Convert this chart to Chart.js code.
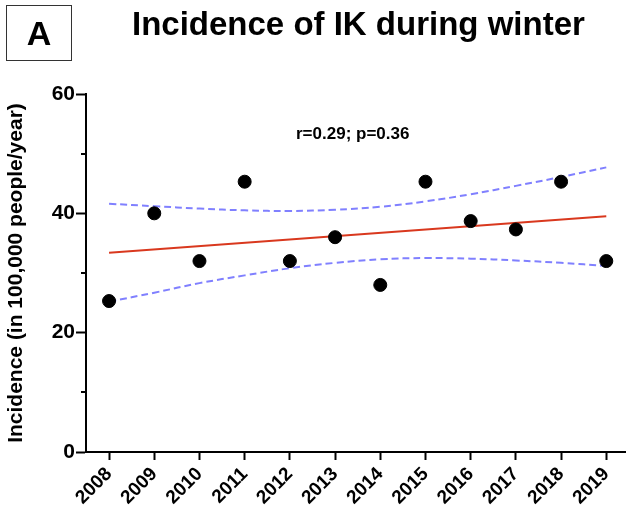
<!DOCTYPE html>
<html>
<head>
<meta charset="utf-8">
<script src="https://cdn.jsdelivr.net/npm/chart.js@4"></script>
<style>
  body { margin: 0; background: #fff; }
  #wrap { position: relative; width: 626px; height: 514px; font-family: "Liberation Sans", Arial, Helvetica, sans-serif; }
  #panel { position: absolute; left: 6px; top: 5px; width: 64px; height: 54px; border: 1.5px solid #333;
           font-weight: bold; font-size: 34px; line-height: 54px; text-align: center; }
  #title { position: absolute; left: 132px; top: 7px; font-weight: bold; font-size: 33px; line-height: 33px; white-space: nowrap; }
  #stats { position: absolute; left: 296px; top: 124px; font-weight: bold; font-size: 17px; line-height: 19px; white-space: nowrap; }
  canvas { position: absolute; left: 0; top: 0; }
</style>
</head>
<body>
<div id="wrap">
  <canvas id="myChart" width="626" height="514"></canvas>
  <div id="panel">A</div>
  <div id="title">Incidence of IK during winter</div>
  <div id="stats">r=0.29; p=0.36</div>
</div>
<script>
// Data
const years = [2008, 2009, 2010, 2011, 2012, 2013, 2014, 2015, 2016, 2017, 2018, 2019];
const incidence = [25.3, 40.0, 32.0, 45.3, 32.0, 36.0, 28.0, 45.3, 38.7, 37.3, 45.3, 32.0];
const fitEnds = [33.4, 39.5]; // regression line at 2008 and 2019
const upperBand = [41.6, 41.2, 40.8, 40.5, 40.4, 40.6, 41.1, 42.0, 43.2, 44.6, 46.1, 47.7];
const lowerBand = [25.2, 26.7, 28.3, 29.6, 30.8, 31.7, 32.3, 32.5, 32.4, 32.1, 31.7, 31.2];
const yTicks = [0, 20, 40, 60];
const yMinorTicks = [10, 30, 50];

const font = "'Liberation Sans', Arial, Helvetica, sans-serif";

// Minor ticks on the y axis, plus the x axis line running on to the edge
const axisExtras = {
    id: "axisExtras",
    afterDraw(chart) {
        const y = chart.scales.y;
        const x = chart.scales.x;
        const ctx = chart.ctx;
        ctx.save();
        ctx.strokeStyle = "#000";
        ctx.lineWidth = 2;
        yMinorTicks.forEach(v => {
            const py = Math.round(y.getPixelForValue(v));
            ctx.beginPath();
            ctx.moveTo(y.right - 5, py);
            ctx.lineTo(y.right, py);
            ctx.stroke();
        });
        ctx.beginPath();
        ctx.moveTo(x.right - 1, x.top);
        ctx.lineTo(chart.width, x.top);
        ctx.stroke();
        ctx.restore();
    }
};

const ctx = document.getElementById("myChart").getContext("2d");
const myChart = new Chart(ctx, {
    type: "scatter",
    data: {
        datasets: [
            {
                data: years.map((x, i) => ({ x, y: incidence[i] })),
                backgroundColor: "#000",
                borderColor: "#000",
                pointRadius: 6.5,
                order: 0
            },
            {
                data: [{ x: years[0], y: fitEnds[0] }, { x: years[years.length - 1], y: fitEnds[1] }],
                showLine: true,
                borderColor: "#d9381e",
                borderWidth: 2,
                pointRadius: 0,
                order: 1
            },
            {
                data: years.map((x, i) => ({ x, y: upperBand[i] })),
                showLine: true,
                borderColor: "#8080ff",
                borderWidth: 2,
                borderDash: [7, 4],
                tension: 0.4,
                pointRadius: 0,
                order: 2
            },
            {
                data: years.map((x, i) => ({ x, y: lowerBand[i] })),
                showLine: true,
                borderColor: "#8080ff",
                borderWidth: 2,
                borderDash: [7, 4],
                tension: 0.4,
                pointRadius: 0,
                order: 2
            }
        ]
    },
    options: {
        responsive: false,
        animation: false,
        devicePixelRatio: 1,
        layout: { padding: { top: 94, right: 0, left: 0, bottom: 0 } },
        plugins: { legend: { display: false }, tooltip: { enabled: false } },
        scales: {
            x: {
                type: "linear",
                min: 2007.49,
                max: 2019.27,
                afterBuildTicks: (scale) => { scale.ticks = years.map(v => ({ value: v })); },
                afterFit: (scale) => { scale.height = 62; },
                border: { color: "#000", width: 2 },
                grid: { drawOnChartArea: false, drawTicks: true, tickLength: 8, tickWidth: 2, tickColor: "#000" },
                ticks: {
                    minRotation: 45,
                    maxRotation: 45,
                    padding: 3,
                    color: "#000",
                    font: { family: font, size: 19, weight: "bold" },
                    callback: (v) => String(v)
                }
            },
            y: {
                min: 0,
                max: 60,
                afterBuildTicks: (scale) => { scale.ticks = yTicks.map(v => ({ value: v })); },
                afterFit: (scale) => { scale.width = 86; },
                border: { color: "#000", width: 2 },
                grid: { drawOnChartArea: false, drawTicks: true, tickLength: 10, tickWidth: 2, tickColor: "#000" },
                ticks: {
                    padding: 1,
                    color: "#000",
                    font: { family: font, size: 21, weight: "bold" }
                },
                title: {
                    display: true,
                    text: "Incidence (in 100,000 people/year)",
                    color: "#000",
                    padding: { top: 4, bottom: 0 },
                    font: { family: font, size: 21, weight: "bold" }
                }
            }
        }
    },
    plugins: [axisExtras]
});
</script>
</body>
</html>
